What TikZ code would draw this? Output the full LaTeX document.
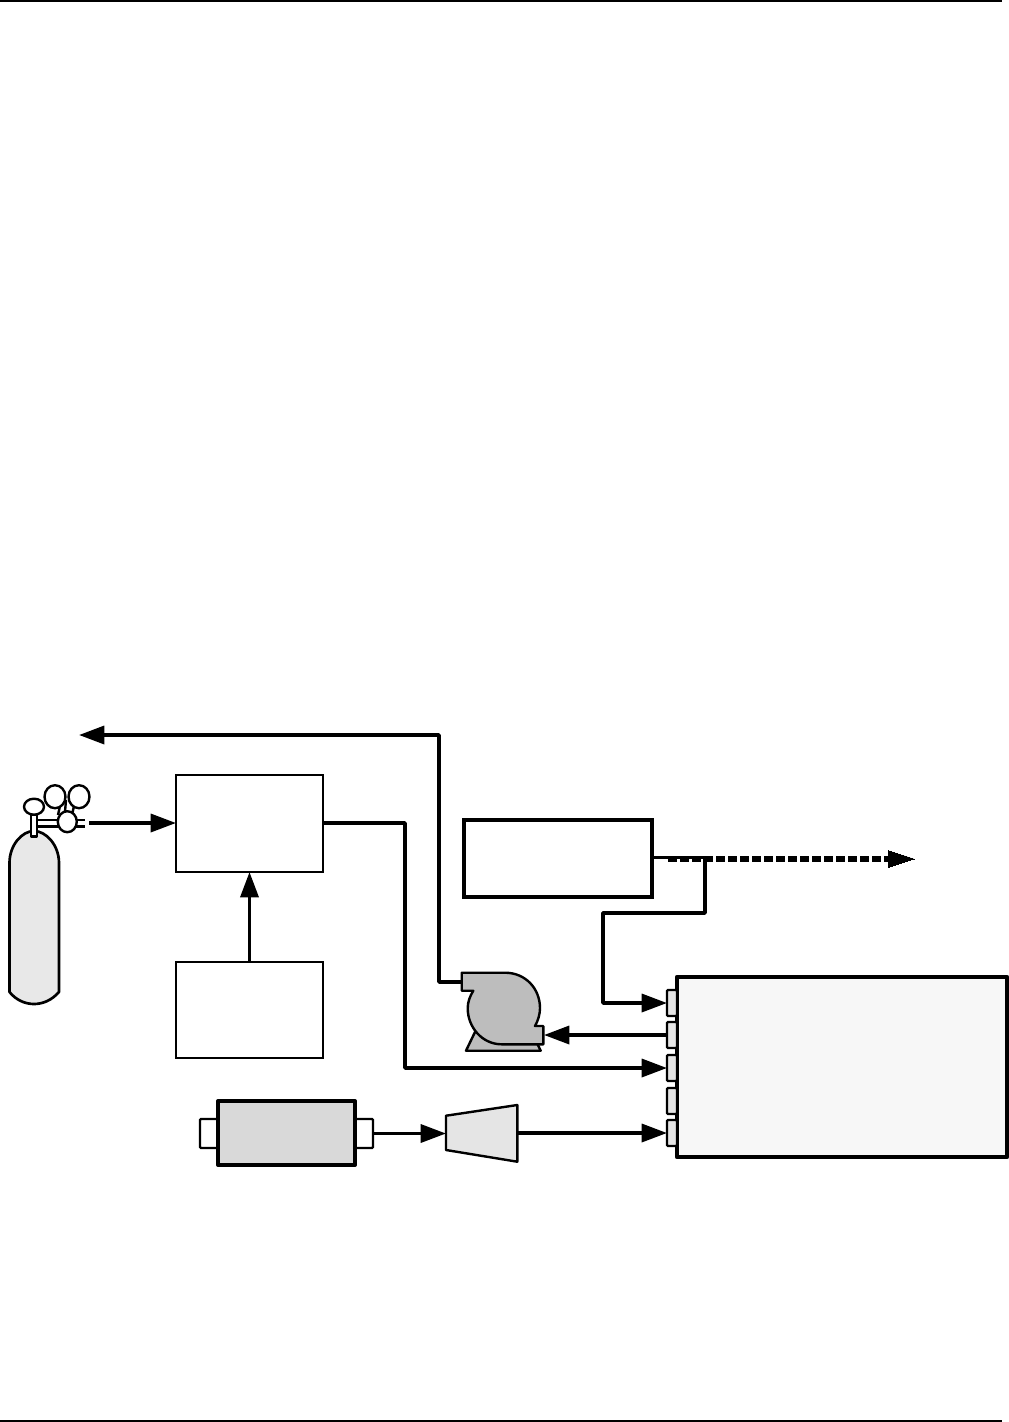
\documentclass[tikz,border=0pt]{standalone}
\usetikzlibrary{arrows.meta}
\newcommand\pxbox[6]{\node[#6,rectangle,draw,inner sep=0pt,outer sep=0pt,minimum width={(#4-#2)*0.75pt},minimum height={(#5-#3)*0.75pt}] (#1) at ({(#2+#4)/2},{(#3+#5)/2}) {};}
\tikzset{
  x=0.75pt,y=-0.75pt,
  pipe/.style={line width=2.6pt,line join=round,-{Triangle[length=19pt,width=13.5pt]}},
  plainpipe/.style={line width=2.6pt,line join=round},
  thinbox/.style={line width=1.4pt,fill=white},
  thickbox/.style={line width=2.5pt,fill=white},
  instrument/.style={line width=3.2pt,fill=black!3,line join=round},
  port/.style={line width=1.7pt,fill=black!10,rounded corners=0.8pt},
  endport/.style={line width=1.7pt,fill=white,rounded corners=0.8pt},
  graybox/.style={line width=3pt,fill=black!15,line join=round},
  shapeline/.style={line width=1.8pt,line join=round},
  tankline/.style={line width=2pt,line join=round},
  rule/.style={line width=1.3pt},
}
\begin{document}
\begin{tikzpicture}
\useasboundingbox (0,0) rectangle (1009,1422);
% page rules
\draw[rule] (0,0.7) -- (1002,0.7);
\draw[rule] (0,1421.2) -- (1002,1421.2);

% boxes
\pxbox{zero}{176}{775}{323}{872}{thinbox}
\pxbox{source}{176}{962}{323}{1058}{thinbox}
\pxbox{analyser}{464}{820}{652}{897}{thickbox}
\pxbox{instr}{677}{977}{1007}{1157}{instrument}
\pxbox{pa}{667}{990}{677}{1016}{port}
\pxbox{pb}{667}{1022}{677}{1048}{port}
\pxbox{pc}{667}{1055}{677}{1081}{port}
\pxbox{pd}{667}{1088}{677}{1114}{port}
\pxbox{pe}{667}{1120}{677}{1146}{port}
\pxbox{leftcap}{200}{1119}{218}{1148}{endport}
\pxbox{rightcap}{355}{1119}{373}{1148}{endport}
\pxbox{gen}{218}{1101}{355}{1165}{graybox}

% cylinder
\draw[tankline,fill=black!9]
  (9.5,992) -- (9.5,863) .. controls (9.5,845) and (22,831) .. (34,831)
  .. controls (46,831) and (59,845) .. (59,863) -- (59,992)
  .. controls (52,1000) and (43,1004) .. (34,1004)
  .. controls (25,1004) and (16,1000) .. (9.5,992) -- cycle;
% regulator
\draw[shapeline] (60,806) -- (58,815) (66,800) -- (65,812) (74,806) -- (72,815);
\draw[shapeline] (37,820) -- (85,820) (37,826.5) -- (85,826.5);
\draw[shapeline,fill=white] (55,796.7) ellipse [x radius=10.5,y radius=11.5];
\draw[shapeline,fill=white] (79,796.7) ellipse [x radius=10.5,y radius=11.5];
\draw[shapeline,fill=white] (67.3,821.7) ellipse [x radius=9.5,y radius=10.5];
\draw[shapeline,fill=white] (30.7,815) rectangle (36.7,836.5);
\draw[shapeline,fill=white] (34,806.7) ellipse [x radius=10,y radius=8];
\coordinate (regout) at (89,823);

% pump
\draw[shapeline,fill=black!26] (475,1032) -- (466,1050.7) -- (540.7,1050.7) -- (537,1043) -- cycle;
\draw[shapeline,fill=black!26]
  (461.7,972.7) -- (505,972.7)
  .. controls (525,972.7) and (540,988) .. (540,1008.3)
  .. controls (540,1014) and (538,1021) .. (535,1026)
  -- (543.3,1026) -- (543.3,1044.3) -- (501.7,1044.3)
  .. controls (482,1044.3) and (467.7,1027) .. (467.7,1008.3)
  .. controls (467.7,1002) and (470,996) .. (473.3,990.7)
  -- (461.7,990.7) -- cycle;
\coordinate (pumpin) at (462,982);
\coordinate (pumpout) at (544,1035);

% reducer
\draw[shapeline,fill=black!10] (446,1115.7) -- (517.3,1105) -- (517.3,1161.7) -- (446,1150) -- cycle;
\coordinate (redin) at (446,1133.5);
\coordinate (redout) at (517.3,1133);

% vent and exhaust ends, junctions
\coordinate (vent) at (79,735);
\coordinate (ventcorner) at (439,735);
\coordinate (pumpcorner) at (439,982);
\coordinate (outlet) at (914,859);
\coordinate (tee) at (705,857.5);
\coordinate (ano) at (652,857.5);

% connectors
\draw[pipe] (regout) -- (zero.west |- regout);
\draw[pipe] (source.north) -- (zero.south);
\draw[pipe] (pumpin) -- (pumpcorner) -- (ventcorner) -- (vent);
\draw[pipe] (zero.east |- 0,823) -- (405,823) -- (405,1068) -- (pc.west);
\draw[plainpipe] (ano) -- (tee);
\draw[pipe] (tee) -- (705,913) -- (603,913) -- (603,1003) -- (pa.west);
\draw[line width=3.9pt,dash pattern=on 6.75pt off 2.25pt] (668,859) -- (893,859);
\draw[line width=0pt,fill=black] (outlet) -- (888,850.5) -- (888,867.5) -- cycle;
\draw[pipe] (pb.west) -- (pumpout);
\draw[pipe] (rightcap.east) -- (redin);
\draw[pipe] (redout) -- (pe.west);
\end{tikzpicture}
\end{document}
